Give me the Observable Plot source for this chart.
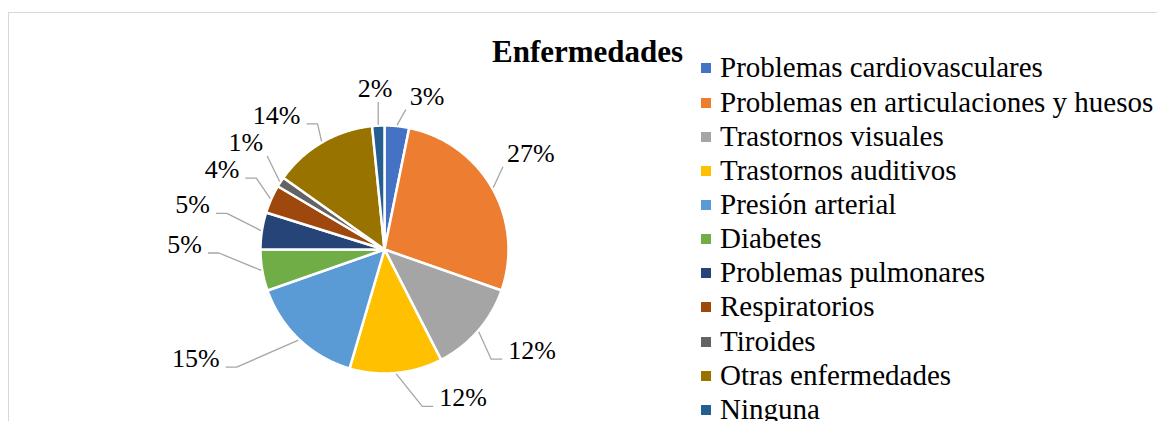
<!DOCTYPE html>
<html><head><meta charset="utf-8">
<script src="https://cdn.jsdelivr.net/npm/d3@7"></script>
<script src="https://cdn.jsdelivr.net/npm/@observablehq/plot@0.6"></script>
<style>
html,body{margin:0;padding:0;background:#fff;width:1157px;height:421px;overflow:hidden;}
#wrap{position:relative;width:1157px;height:421px;font-family:"Liberation Serif","Times New Roman",serif;color:#000;overflow:hidden;}
#frame{position:absolute;left:8px;top:12px;right:-2px;bottom:-2px;border-top:1px solid #d9d9d9;border-left:1px solid #d9d9d9;}
#chart{position:absolute;left:0;top:0;}
#title{position:absolute;left:492px;top:34.7px;font-weight:bold;font-size:31px;line-height:34.3px;white-space:nowrap;}
#legend{position:absolute;left:701px;top:50.4px;}
.row{position:relative;height:34.15px;line-height:34.15px;font-size:29px;white-space:nowrap;padding-left:19px;}
.sw{position:absolute;left:0;top:13px;width:10px;height:10px;}
</style></head>
<body>
<div id="wrap">
  <div id="frame"></div>
  <div id="chart"></div>
  <div id="title"></div>
  <div id="legend"></div>
</div>
<script>
// ---- data ----
const chartTitle = "Enfermedades";
const categories = [
  "Problemas cardiovasculares",
  "Problemas en articulaciones y huesos",
  "Trastornos visuales",
  "Trastornos auditivos",
  "Presión arterial",
  "Diabetes",
  "Problemas pulmonares",
  "Respiratorios",
  "Tiroides",
  "Otras enfermedades",
  "Ninguna"
];
const shares = [3.2, 27.2, 12.1, 12.1, 15.1, 5.4, 4.8, 3.7, 1.3, 13.6, 1.6];
const colors = ["#4472C4","#ED7D31","#A5A5A5","#FFC000","#5B9BD5","#70AD47","#264478","#9E480E","#636363","#997300","#255E91"];

// ---- layout ----
const W = 1157, H = 421;
const CX = 384, CY = 249, R = 124;
const FS = 26;
const FONT = '"Liberation Serif","Times New Roman",serif';
// label placement per slice: [angle nudge in degrees from slice mid-angle, distance from pie centre]
const labelPlacement = [
  [9.8, 159], [-3.7, 175], [-6.6, 179], [-22.5, 168], [16.4, 218], [11, 200],
  [4.3, 197], [2.1, 181], [4.6, 175], [-8.6, 172], [-0.5, 161]
];

const total = d3.sum(shares);
let cum = 0;
const slices = categories.map((c, i) => {
  const a0 = cum / total * 2 * Math.PI;
  cum += shares[i];
  const a1 = cum / total * 2 * Math.PI;
  return {c, i, a0, a1, mid: (a0 + a1) / 2, pct: Math.round(shares[i] / total * 100)};
});
const pt = (a, r) => [CX + r * Math.sin(a), CY - r * Math.cos(a)];

const slicePts = slices.flatMap(s => {
  const n = Math.max(2, Math.ceil((s.a1 - s.a0) / (Math.PI / 360)));
  const arr = [{c: s.c, x: CX, y: CY}];
  for (let k = 0; k <= n; k++) {
    const [x, y] = pt(s.a0 + (s.a1 - s.a0) * k / n, R);
    arr.push({c: s.c, x, y});
  }
  arr.push({c: s.c, x: CX, y: CY});
  return arr;
});

const labels = slices.map((s, i) => {
  const [dA, r] = labelPlacement[i];
  const [tx, ty] = pt(s.mid + dA * Math.PI / 180, r);
  const text = s.pct + "%";
  const w = ((text.length - 1) * 0.5 + 0.833) * FS;
  return {c: s.c, i, tx, ty, text, w, baseline: ty + 0.32 * FS, mid: s.mid};
});

const leaders = labels.flatMap(l => {
  const [px, py] = pt(l.mid, R + 1);
  const x0 = l.tx - l.w / 2 - 4, x1 = l.tx + l.w / 2 + 4;
  const yT = l.baseline - 0.66 * FS - 3, yB = l.baseline + 5;
  const hGap = Math.max(x0 - px, px - x1, 0);
  const vGap = Math.max(yT - py, py - yB, 0);
  const pts = [[px, py]];
  if (hGap > vGap) {
    if (px < x0) {
      const ex = l.tx - l.w / 2 - 6;
      pts.push([ex - 11, l.baseline], [ex, l.baseline]);
    } else {
      const ex = l.tx + l.w / 2 + 6;
      pts.push([ex + 11, l.baseline], [ex, l.baseline]);
    }
  } else {
    pts.push([Math.min(Math.max(px, x0), x1), Math.min(Math.max(py, yT), yB)]);
  }
  return pts.map(([x, y]) => ({c: l.c, x, y}));
});

const plot = Plot.plot({
  width: W, height: H,
  margin: 0,
  x: {domain: [0, W], range: [0, W], axis: null},
  y: {domain: [0, H], range: [0, H], axis: null},
  color: {domain: categories, range: colors},
  style: {background: "transparent", fontFamily: FONT},
  marks: [
    Plot.line(slicePts, {x: "x", y: "y", z: "c", fill: "c", stroke: "white", strokeWidth: 2.5, strokeLinejoin: "round", curve: "linear"}),
    Plot.line(leaders, {x: "x", y: "y", z: "c", stroke: "#a6a6a6", strokeWidth: 1.3, strokeLinejoin: "miter", strokeLinecap: "butt"}),
    Plot.text(labels, {x: "tx", y: "ty", text: "text", fontSize: FS, fontFamily: FONT, fill: "#000", textAnchor: "middle", lineAnchor: "middle"})
  ]
});
document.getElementById("chart").appendChild(plot);

document.getElementById("title").textContent = chartTitle;
const leg = document.getElementById("legend");
categories.forEach((c, i) => {
  const row = document.createElement("div");
  row.className = "row";
  const sw = document.createElement("span");
  sw.className = "sw";
  sw.style.background = colors[i];
  row.appendChild(sw);
  row.appendChild(document.createTextNode(c));
  leg.appendChild(row);
});
</script>
</body></html>
